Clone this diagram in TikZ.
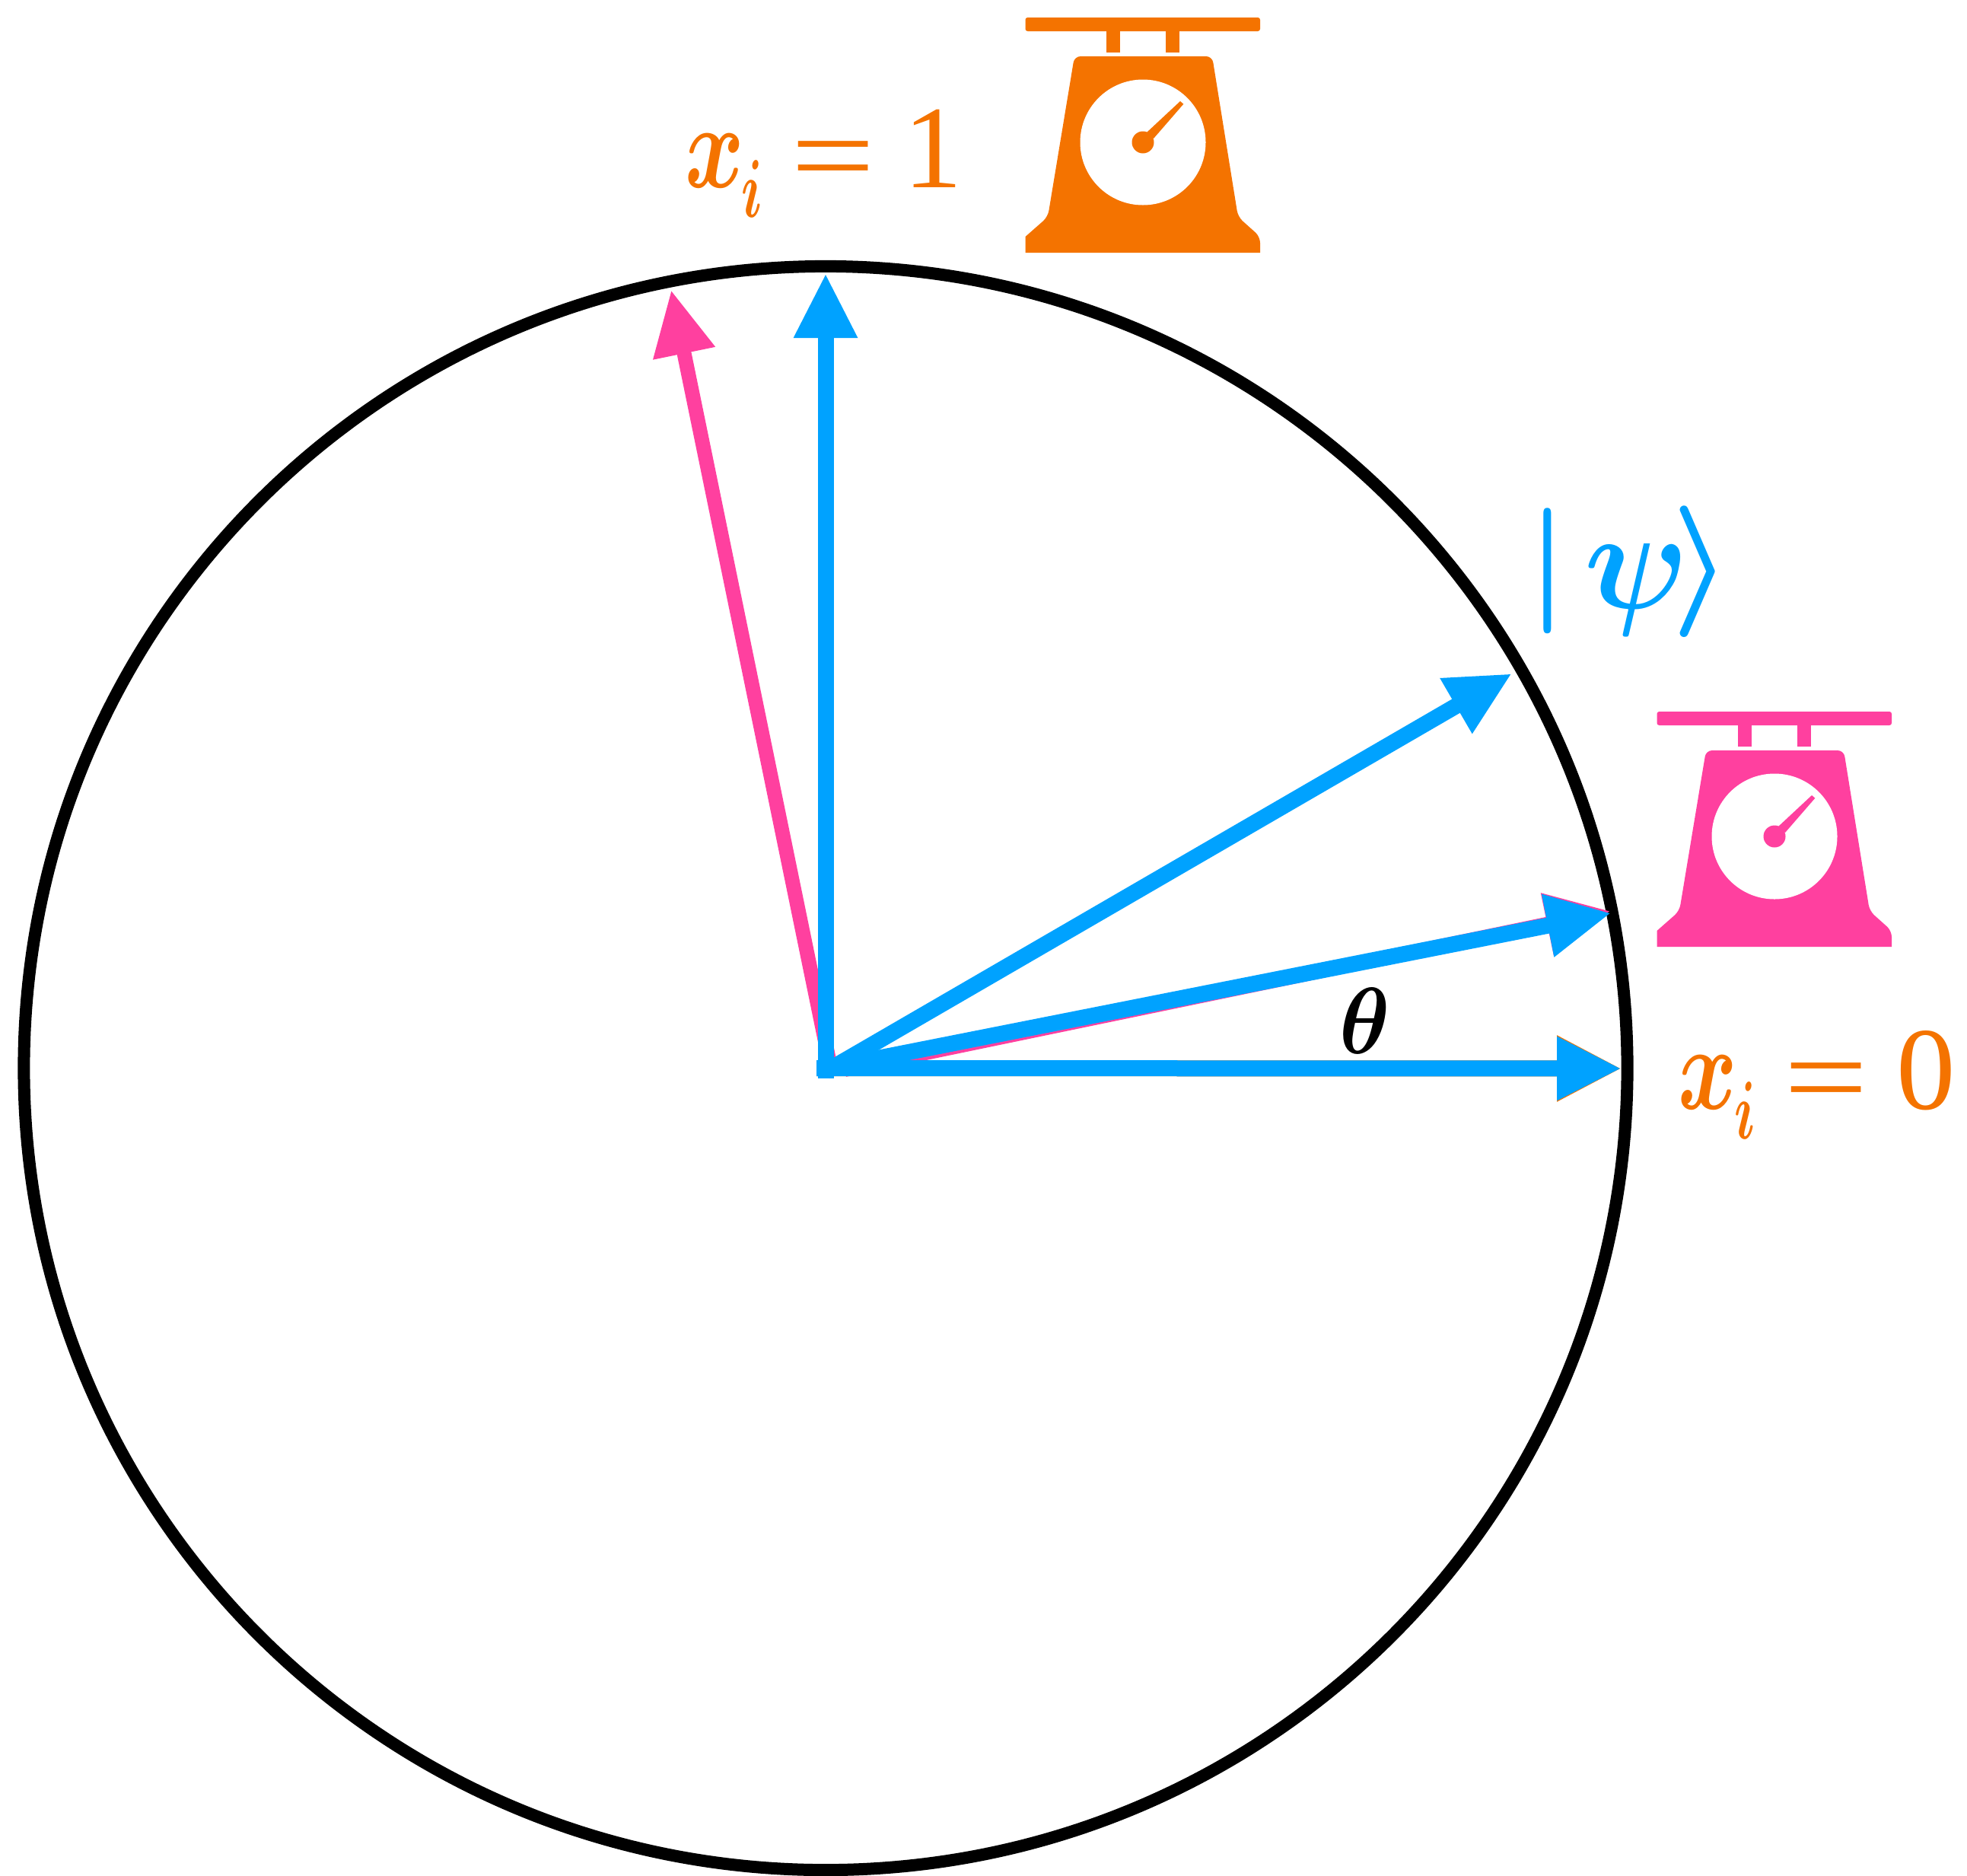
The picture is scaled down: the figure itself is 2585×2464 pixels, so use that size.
\documentclass[tikz,border=0pt]{standalone}
\usepackage{fontspec}
\usepackage{graphicx}
\setmainfont{Liberation Serif}
\usetikzlibrary{arrows.meta}
\definecolor{qorange}{HTML}{F47300}
\definecolor{qpink}{HTML}{FF409F}
\definecolor{qblue}{HTML}{00A2FF}
\newcommand{\qlabel}[1]{\scalebox{5.9}[7.9]{\fontsize{10}{12}\selectfont\boldmath$x$}\hspace{-1.5pt}\raisebox{-19.5pt}{\scalebox{3.4}[5.4]{\fontsize{10}{12}\selectfont\boldmath$i$}}\hspace{18.5pt}\fontsize{77.5}{80}\selectfont\raisebox{-5pt}{\scalebox{1.27}[1]{=}}\hspace{18.5pt}#1}
\tikzset{
  x=0.5pt,y=-0.5pt,
  vec/.style={line width=10.5pt,draw=qblue,-{Triangle[length=42.5pt,width=39pt]}},
  pinkvec/.style={line width=9.5pt,draw=qpink,-{Triangle[length=42.5pt,width=39pt]}},
  fringe/.style={line width=10.5pt,draw=qorange,-{Triangle[length=42.5pt,width=40.5pt]}},
  txt/.style={inner sep=0pt,outer sep=0pt,anchor=base west},
  balance/.pic={
    \fill[rounded corners=1.5pt] (-154.5,-164) rectangle (154,-146);
    \fill (-48.5,-147) rectangle (-30,-118.5);
    \fill (30,-147) rectangle (48,-118.5);
    \fill[rounded corners=4pt] (-154.5,145) [sharp corners] -- (-154.5,124) [rounded corners=4pt] -- (-125,98) -- (-90,-113) -- (91,-113) -- (125,98) -- (154,124) [sharp corners] -- (154,145) -- cycle;
    \fill[white] (0,0) circle[radius=82.5];
    \fill (0,0) circle[radius=14.5];
    \fill (5,-13) -- (49,-54) -- (53.3,-50.3) -- (14,-5) -- cycle;
  }
}
\begin{document}
\begin{tikzpicture}
\useasboundingbox (0,0) rectangle (2585,2464);
\coordinate (C) at (1085,1403.5);
\coordinate (O) at (1085,1404);
\coordinate (Ops) at (1085,1408);
\coordinate (Oh) at (1073,1403.5);
\coordinate (Ov) at (1085,1417);
\coordinate (Op) at (1091,1400);
\coordinate (Ol) at (1110,1405.5);
\coordinate (Tright) at (2131,1404);
\coordinate (Ttop) at (1085,359);
\coordinate (Tpsi) at (1987,885);
\coordinate (Tmid) at (2117.5,1199.7);
\coordinate (Tmidp) at (2116.5,1197);
\coordinate (Tpink) at (882,381);

\draw[line width=8pt,black] (C) circle[radius=1053.6];

\draw[pinkvec] (Op) -- (Tpink);
\draw[pinkvec] (Ol) -- (Tmidp);
\draw[fringe] (Oh) -- (Tright);
\draw[vec] (Ov) -- (Ttop);
\draw[vec] (Ops) -- (Tpsi);
\draw[vec] (O) -- (Tmid);
\draw[vec] (Oh) -- (Tright);

\pic[fill=qorange] (scaleone) at (1502,187) {balance};
\pic[fill=qpink] (scalezero) at (2332,1099) {balance};

\node[txt,text=qorange] (xone) at (900,246) {\qlabel{1}};
\node[txt,text=qorange] (xzero) at (2205,1457) {\qlabel{0}};
\node[txt] (theta) at (1760,1384) {\scalebox{5.6}[6.2]{\boldmath$\theta$}};
\node[txt,text=qblue] (bar) at (2007,791) {\scalebox{8.25}{\boldmath$|$}};
\begin{scope}
\clip (2060,714.5) rectangle (2230,840);
\node[txt,text=qblue] (psi) at (2082,799) {\scalebox{8.6}[9.3]{\boldmath$\psi$}};
\end{scope}
\node[txt,text=qblue] (ket) at (2196,794) {\scalebox{9}[8.65]{\boldmath$\rangle$}};
\end{tikzpicture}
\end{document}
